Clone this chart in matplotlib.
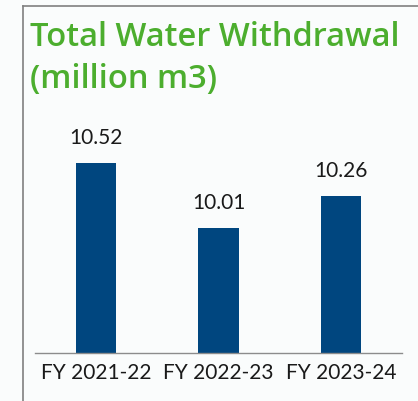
#!/usr/bin/env python3

# Imports
import matplotlib
matplotlib.use('Agg')
import matplotlib.pyplot as plt
from matplotlib.lines import Line2D

# Data
years = ['FY 2021-22', 'FY 2022-23', 'FY 2023-24']
withdrawal = [10.52, 10.01, 10.26]

W, H = 418, 401
plt.rcParams['font.family'] = ['Lato', 'DejaVu Sans']

fig = plt.figure(figsize=(W / 100, H / 100), dpi=100, facecolor='#fafcfc')

# Frame lines of the panel (top and left)
fig.add_artist(Line2D([23 / W, 23 / W], [0, 1 - 6 / H], color='#808080', lw=1.2))
fig.add_artist(Line2D([23 / W, 1], [1 - 6 / H, 1 - 6 / H], color='#808080', lw=1.2))

# Title
title_font = dict(color='#4cae2e', fontsize=23.5, fontweight='semibold',
                  family=['Open Sans', 'DejaVu Sans'], va='baseline', ha='left')
fig.text(30 / W, 1 - 46 / H, 'Total Water Withdrawal', **title_font)
fig.text(30 / W, 1 - 88 / H, '(million m3)', **title_font)

# Axes placed to match the reference
ax = fig.add_axes([35 / W, (H - 353) / H, (402 - 35) / W, (353 - 110) / H])
ax.set_facecolor('none')
xs = range(len(years))
bars = ax.bar(xs, withdrawal, width=0.33, color='#00467f', bottom=0)
ax.set_xlim(-0.5, 2.5)
ax.set_ylim(9.03, 10.936)

for x, v in zip(xs, withdrawal):
    ax.annotate(f'{v:.2f}', (x, v), xytext=(0, 14), textcoords='offset points',
                ha='center', va='baseline', fontsize=15, color='#1a1a1a')

ax.set_xticks(list(xs))
ax.set_xticklabels(years, fontsize=15, color='#1a1a1a')
ax.tick_params(axis='x', length=0, pad=7)
ax.set_yticks([])
for side in ['top', 'right', 'left']:
    ax.spines[side].set_visible(False)
ax.spines['bottom'].set_color('#8c8c8c')
ax.spines['bottom'].set_linewidth(1.0)

fig.savefig('out.png', dpi=100, facecolor=fig.get_facecolor())
